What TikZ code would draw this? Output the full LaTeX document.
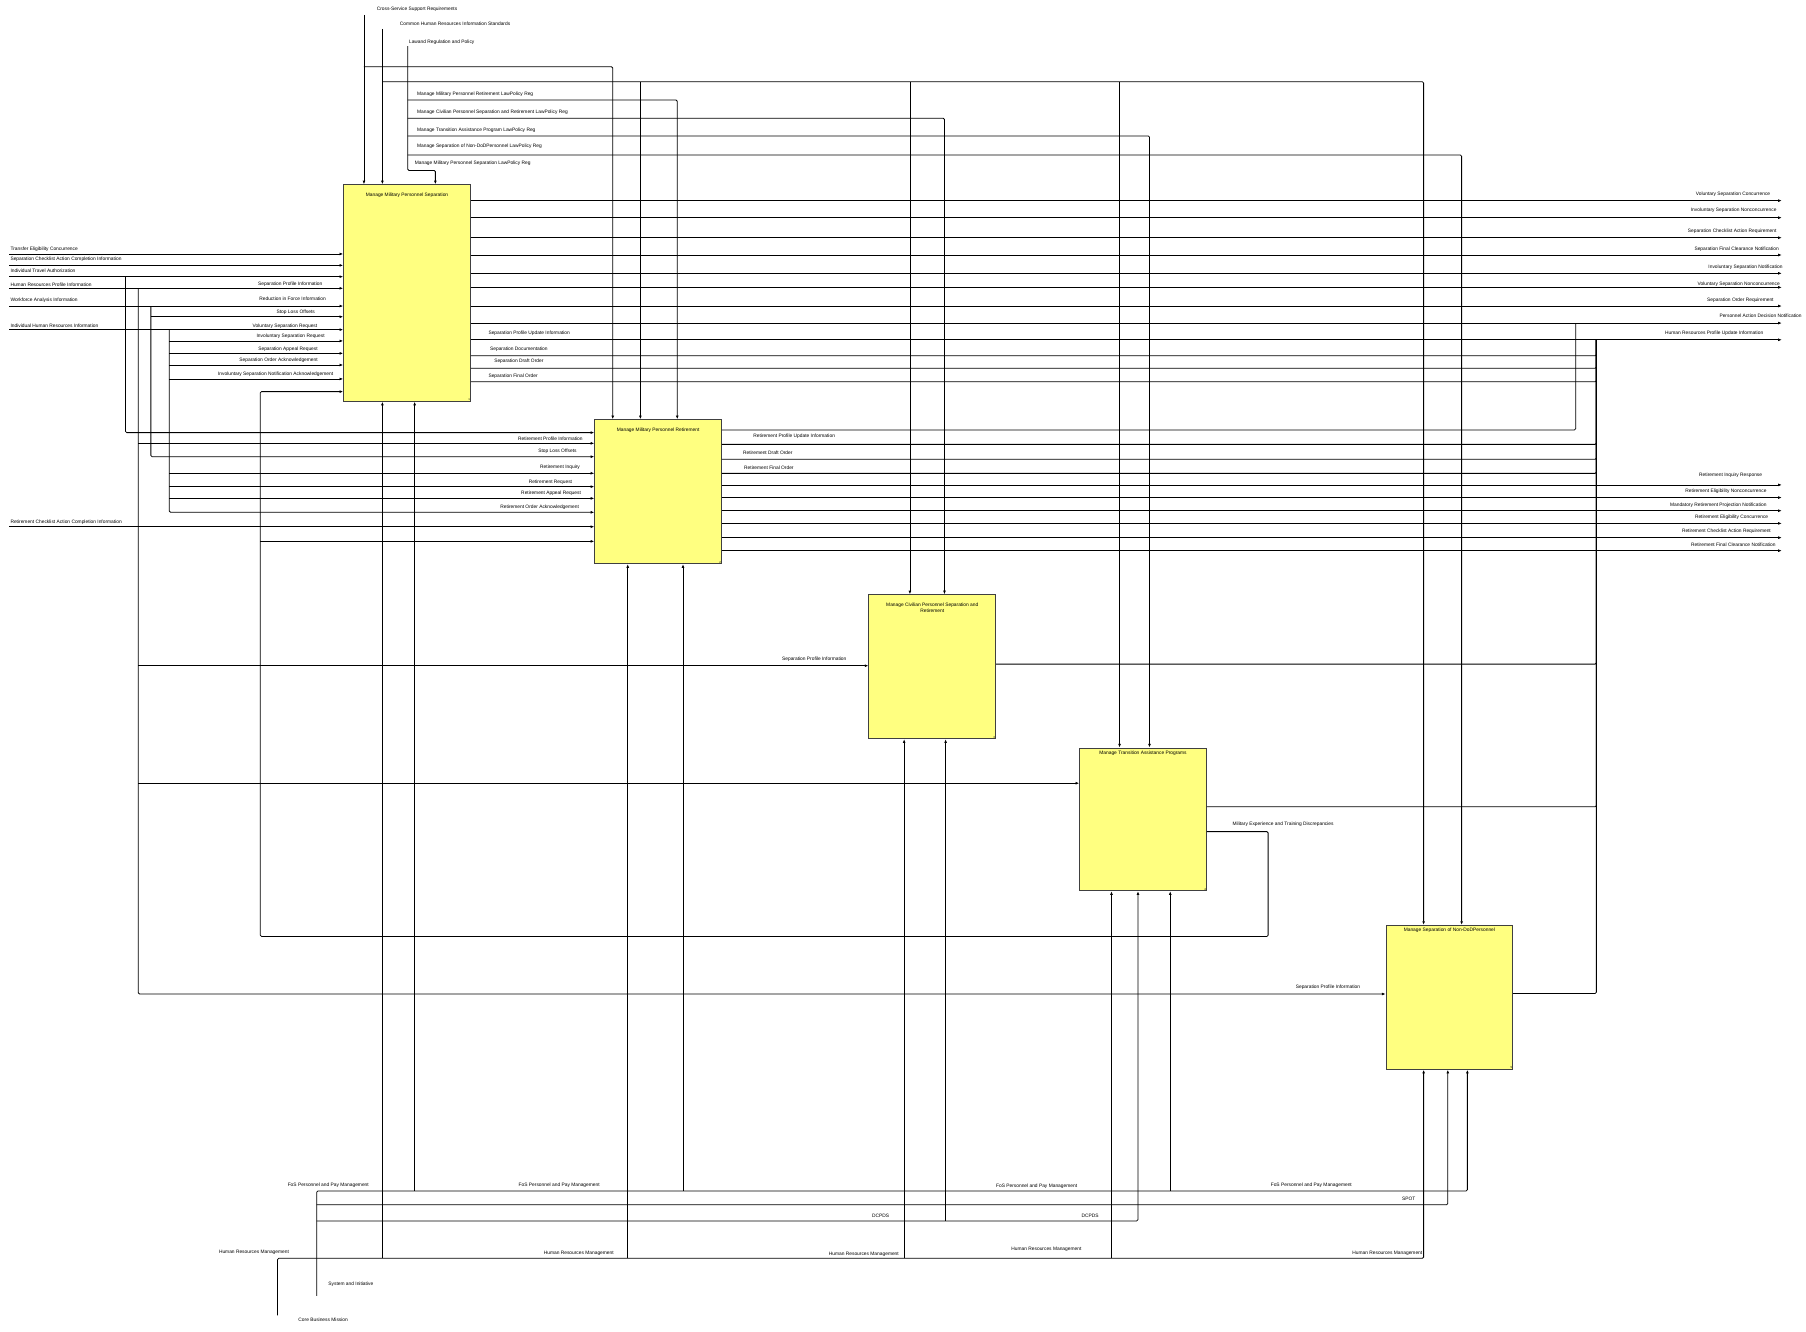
\documentclass[tikz,border=0pt]{standalone}
\usepackage{fontspec}
\setmainfont{Liberation Sans}
\usepackage{xcolor}
\usepackage{tikz}
\usetikzlibrary{arrows.meta, positioning}
\definecolor{actfill}{RGB}{255,255,128}

\begin{document}
\begin{tikzpicture}[x=0.05cm, y=-0.05cm, >={Latex[length=4.5pt,width=3.5pt]},
    act/.style={draw=black!75, line width=1.1pt, fill=actfill, anchor=north west, inner sep=0pt, minimum width=5.5cm, minimum height=6.25cm},
    flow/.style={->, line width=1pt, rounded corners=1.5pt},
    wire/.style={line width=1pt, rounded corners=1.5pt},
    lbl/.style={font=\fontsize{6}{8.5}\selectfont, inner sep=0pt},
    num/.style={font=\fontsize{3.5}{4}\selectfont, inner sep=1pt, anchor=south east}]
    \useasboundingbox (0,0) rectangle (1568,1156);

    % activities
    \node[act, minimum height=9.4cm] (sep) at (298,160) {};
    \node[act] (ret) at (516,364) {};
    \node[act] (civ) at (754,516) {};
    \node[act, minimum height=6.2cm] (tap) at (937,649) {};
    \node[act] (ndp) at (1203,803) {};
    \node[lbl, below=10pt of sep.north] (sepT) {Manage Military Personnel Separation};
    \node[lbl, below=10pt of ret.north] (retT) {Manage Military Personnel Retirement};
    \node[lbl, below=10pt of civ.north, align=center] (civT) {Manage Civilian Personnel Separation and\\Retirement};
    \node[lbl, below=3.5pt of tap.north] (tapT) {Manage Transition Assistance Programs};
    \node[lbl, below=4pt of ndp.north] (ndpT) {Manage Separation of Non-DoDPersonnel};
    \node[num] (sepN) at (sep.south east) {1};
    \node[num] (retN) at (ret.south east) {2};
    \node[num] (civN) at (civ.south east) {3};
    \node[num] (tapN) at (tap.south east) {4};
    \node[num] (ndpN) at (ndp.south east) {5};

    % controls
    \coordinate (cssr) at (316,13);
    \coordinate (chris) at (332,25);
    \coordinate (lrp) at (354,40);
    \node[lbl, anchor=west] (cssrL) at (327,8) {Cross-Service Support Requirements};
    \node[lbl, anchor=west] (chrisL) at (347,21) {Common Human Resources Information Standards};
    \node[lbl, anchor=west] (lrpL) at (355,37) {Lawand Regulation and Policy};
    \draw[flow] (cssr) -- (sep.north -| cssr);
    \draw[flow] (cssr |- 0,58) -- (532,58) -- (ret.north -| 532,0);
    \draw[flow] (chris) -- (sep.north -| chris);
    \draw[flow] (chris |- 0,71) -- (1236,71) -- (ndp.north -| 1236,0);
    \foreach \x/\b in {556/ret, 790/civ, 972/tap}
        \draw[flow] (\x,71) -- (\b.north -| \x,0);
    \draw[flow] (lrp) -- (354,148) -- (378,148) -- (sep.north -| 378,0);
    \foreach \y/\yl/\x/\b/\t [count=\i] in {86.8/81.9/588/ret/Manage Military Personnel Retirement LawPolicy Reg,
        102.7/97.5/820/civ/Manage Civilian Personnel Separation and Retirement LawPolicy Reg,
        118/112.9/998/tap/Manage Transition Assistance Program LawPolicy Reg,
        134.6/126.8/1269/ndp/Manage Separation of Non-DoDPersonnel LawPolicy Reg}{
        \draw[flow] (354,\y) -- (\x,\y) -- (\b.north -| \x,0);
        \node[lbl, anchor=west] (regL\i) at (362,\yl) {\t};
    }
    \node[lbl, anchor=west] (regL5) at (360,141.8) {Manage Military Personnel Separation LawPolicy Reg};

    % inputs of 1
    \foreach \y/\yl/\t [count=\i] in {220.5/216/Transfer Eligibility Concurrence,
        230.4/225/Separation Checklist Action Completion Information,
        240.2/235/Individual Travel Authorization,
        250.3/247/Human Resources Profile Information,
        265.7/260.5/Workforce Analysis Information,
        286.2/282.5/Individual Human Resources Information}{
        \draw[flow] (8,\y) -- (sep.west |- 0,\y);
        \node[lbl, anchor=west] (inL\i) at (9,\yl) {\t};
    }
    \foreach \y/\x/\t [count=\i] in {246.9/280/Separation Profile Information,
        259.6/283/Reduction in Force Information,
        271/273.5/Stop Loss Offsets,
        283/275.6/Voluntary Separation Request,
        291.7/282/Involuntary Separation Request,
        303/276/Separation Appeal Request,
        312.6/276/Separation Order Acknowledgement,
        324.7/289.4/Involuntary Separation Notification Acknowledgement}
        \node[lbl, anchor=east] (sepI\i) at (\x,\y) {\t};
    \draw[flow] (109,240.2) -- (109,375.6) -- (ret.west |- 0,375.6);
    \draw[flow] (120,250.3) -- (120,863) -- (ndp.west |- 0,863);
    \foreach \y/\b in {384.9/ret, 578/civ, 680/tap}
        \draw[flow] (120,\y) -- (\b.west |- 0,\y);
    \draw[flow] (131,265.7) -- (131,396.5) -- (ret.west |- 0,396.5);
    \draw[flow] (131,275) -- (sep.west |- 0,275);
    \draw[flow] (147,286.2) -- (147,444.8) -- (ret.west |- 0,444.8);
    \foreach \y in {296,306.8,316.9,329}
        \draw[flow] (147,\y) -- (sep.west |- 0,\y);
    \foreach \y in {410.9,422.5,432.7}
        \draw[flow] (147,\y) -- (ret.west |- 0,\y);

    % inputs of 2
    \foreach \y/\x/\t [count=\i] in {380.6/506/Retirement Profile Information,
        391.6/500.7/Stop Loss Offsets,
        406/503.6/Retirement Inquiry,
        418.8/496.8/Retirement Request,
        428.3/504.5/Retirement Appeal Request,
        440.5/502.8/Retirement Order Acknowledgement}
        \node[lbl, anchor=east] (retI\i) at (\x,\y) {\t};
    \draw[flow] (8,457.3) -- (ret.west |- 0,457.3);
    \node[lbl, anchor=west] (inL7) at (9,453) {Retirement Checklist Action Completion Information};
    \node[lbl, anchor=east] (civI) at (735,572) {Separation Profile Information};
    \node[lbl, anchor=east] (ndpI) at (1181,857) {Separation Profile Information};

    % feedback
    \draw[flow] (tap.east |- 0,722) -- (1101,722) -- (1101,813) -- (226,813) -- (226,340) -- (sep.west |- 0,340);
    \draw[flow] (226,470) -- (ret.west |- 0,470);
    \node[lbl, anchor=west] (fbL) at (1070,716) {Military Experience and Training Discrepancies};

    % outputs
    \foreach \y/\yl/\x/\t [count=\i] in {174.2/168.4/1537/Voluntary Separation Concurrence,
        189/182.9/1542.5/Involuntary Separation Nonconcurrence,
        206.4/200.6/1542.5/Separation Checklist Action Requirement,
        221.4/216.2/1544.5/Separation Final Clearance Notification,
        237.3/232/1547.7/Involuntary Separation Notification,
        249.5/246.6/1545.4/Voluntary Separation Nonconcurrence,
        265.7/261/1540/Separation Order Requirement,
        280.5/274.4/1564.3/Personnel Action Decision Notification,
        295/289.4/1531/Human Resources Profile Update Information}{
        \draw[flow] (sep.east |- 0,\y) -- (1547,\y);
        \node[lbl, anchor=east] (outL\i) at (\x,\yl) {\t};
    }
    \foreach \y in {308.8,319.8,331.4}
        \draw[wire] (sep.east |- 0,\y) -- (1386,\y) -- (1386,295);
    \foreach \y/\x/\t [count=\i] in {289/424/Separation Profile Update Information,
        303/425.4/Separation Documentation,
        314/429/Separation Draft Order,
        326.5/424/Separation Final Order}
        \node[lbl, anchor=west] (sepO\i) at (\x,\y) {\t};
    \draw[wire] (ret.east |- 0,373.3) -- (1368,373.3) -- (1368,280.5);
    \foreach \y in {385.8,398.8,411}
        \draw[wire] (ret.east |- 0,\y) -- (1386,\y) -- (1386,295);
    \foreach \y/\x/\t [count=\i] in {379/654/Retirement Profile Update Information,
        393/645/Retirement Draft Order,
        406/646/Retirement Final Order}
        \node[lbl, anchor=west] (retO\i) at (\x,\y) {\t};
    \foreach \y/\yl/\x/\t [count=\i] in {421/413/1530/Retirement Inquiry Response,
        432/426.9/1533.8/Retirement Eligibility Nonconcurrence,
        443.4/438.4/1533.8/Mandatory Retirement Projection Notification,
        454.4/449.1/1535.3/Retirement Eligibility Concurrence,
        466.8/461.6/1537.6/Retirement Checklist Action Requirement,
        478.1/473.2/1541.7/Retirement Final Clearance Notification}{
        \draw[flow] (ret.east |- 0,\y) -- (1547,\y);
        \node[lbl, anchor=east] (outR\i) at (\x,\yl) {\t};
    }
    \draw[wire] (civ.east |- 0,576.6) -- (1386,576.6) -- (1386,295);
    \draw[wire] (tap.east |- 0,700.4) -- (1386,700.4) -- (1386,295);
    \draw[wire] (ndp.east |- 0,862.5) -- (1386,862.5) -- (1386,295);

    % mechanisms
    \coordinate (cbm) at (241,1142);
    \coordinate (sai) at (275,1125);
    \node[lbl, anchor=west] (cbmL) at (259,1146) {Core Business Mission};
    \node[lbl, anchor=west] (saiL) at (285,1115) {System and Initiative};
    \draw[flow] (cbm) -- (241,1092.5) -- (1236,1092.5) -- (ndp.south -| 1236,0);
    \foreach \x/\b in {332/sep, 545/ret, 785/civ, 965/tap}
        \draw[flow] (\x,1092.5) -- (\b.south -| \x,0);
    \foreach \x/\y [count=\i] in {220.5/1087, 502.5/1088, 750/1089, 908.5/1085, 1204.5/1088}
        \node[lbl] (hrmL\i) at (\x,\y) {Human Resources Management};
    \draw[flow] (sai) -- (275,1034) -- (1274,1034) -- (ndp.south -| 1274,0);
    \foreach \x/\b in {360/sep, 593/ret, 1016/tap}
        \draw[flow] (\x,1034) -- (\b.south -| \x,0);
    \foreach \x/\y [count=\i] in {285/1029.4, 485.5/1029, 900/1030, 1138.5/1029}
        \node[lbl] (fosL\i) at (\x,\y) {FoS Personnel and Pay Management};
    \draw[flow] (275,1046) -- (1257,1046) -- (ndp.south -| 1257,0);
    \node[lbl] (spotL) at (1223,1041) {SPOT};
    \draw[flow] (275,1060) -- (988,1060) -- (tap.south -| 988,0);
    \draw[flow] (821,1060) -- (civ.south -| 821,0);
    \node[lbl] (dcpdsL1) at (764.5,1056) {DCPDS};
    \node[lbl] (dcpdsL2) at (946.5,1056) {DCPDS};
\end{tikzpicture}
\end{document}
